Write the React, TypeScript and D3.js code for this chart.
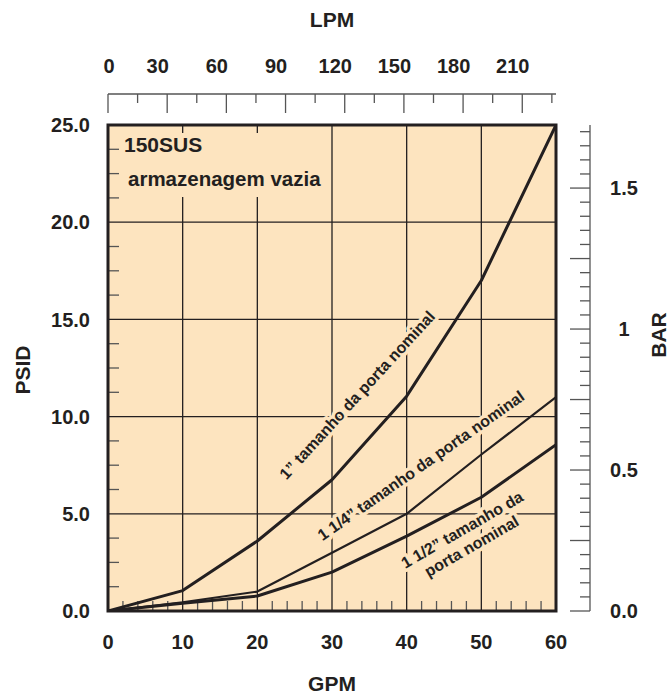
import React from "react";
import * as d3 from "d3";

const GPM = [0, 10, 20, 30, 40, 50, 60];
const PSI_1 = [0, 1.05, 3.6, 6.75, 11.05, 17.0, 25.0];
const PSI_1_14 = [0, 0.45, 1.0, 3.0, 5.0, 8.05, 11.0];
const PSI_1_12 = [0, 0.4, 0.77, 2.0, 3.85, 5.85, 8.55];

const GPM_TICKS = [0, 10, 20, 30, 40, 50, 60];
const PSI_TICKS = [0, 5, 10, 15, 20, 25];
const PSI_LABELS = ["0.0", "5.0", "10.0", "15.0", "20.0", "25.0"];
const LPM_TICKS = [0, 30, 60, 90, 120, 150, 180, 210];
const BAR_TICKS = [0, 0.5, 1, 1.5];
const BAR_LABELS = ["0.0", "0.5", "1", "1.5"];

const SERIES = [
  { name: "1in", values: PSI_1, width: 3 },
  { name: "114in", values: PSI_1_14, width: 2.2 },
  { name: "112in", values: PSI_1_12, width: 3 },
];

const CURVE_LABELS = [
  { lines: ["1\u201D tamanho da porta nominal"], gpm: 33.5, psi: 11.06, angle: -47.5 },
  { lines: ["1 1/4\u201D tamanho da porta nominal"], gpm: 42.0, psi: 7.42, angle: -35 },
  { lines: ["1 1/2\u201D tamanho da", "porta nominal"], gpm: 48.15, psi: 3.7, angle: -30 },
];

const LPM_PER_GPM = 3.785;
const PSI_PER_BAR = 14.5038;

const W = 671;
const H = 694;
const BG = "#FDE4BF";
const INK = "#231F20";
const FONT = "'Liberation Sans', Arial, Helvetica, sans-serif";

export default function App() {
  const x = d3.scaleLinear().domain([0, 60]).range([108, 556]);
  const y = d3.scaleLinear().domain([0, 25]).range([611, 125]);
  const xL = d3.scaleLinear().domain([0, 60 * LPM_PER_GPM]).range([108, 556]);
  const yB = d3.scaleLinear().domain([0, 25 / PSI_PER_BAR]).range([611, 125]);

  const line = d3
    .line<number>()
    .x((_, i) => x(GPM[i]))
    .y((d) => y(d));

  const leftMinor = d3.range(0, 25.001, 1.25).filter((v) => Math.abs(v % 5) > 0.01);
  const bottomMinor = d3.range(2, 60, 2).filter((v) => v % 10 !== 0);
  const topTicks = d3.range(0, 226, 15);
  const barTicks = d3.range(0, 1.7001, 0.05);

  const x0 = x(0), x1 = x(60), y0 = y(0), y1 = y(25);

  return (
    <svg
      width={W}
      height={H}
      style={{ position: "absolute", left: 0, top: 0, background: "#fff" }}
      fontFamily={FONT}
      fontWeight="bold"
    >
      <defs>
        <clipPath id="plotclip">
          <rect x={x0} y={y1} width={x1 - x0} height={y0 - y1} />
        </clipPath>
      </defs>

      {/* Plot background */}
      <rect x={x0} y={y1} width={x1 - x0} height={y0 - y1} fill={BG} />

      {/* Grid */}
      {GPM_TICKS.filter((v) => v > 0 && v < 60).map((v) => (
        <line key={"gx" + v} x1={x(v)} x2={x(v)} y1={y1} y2={y0} stroke={INK} strokeWidth={1.3} />
      ))}
      {PSI_TICKS.filter((v) => v > 0 && v < 25).map((v) => (
        <line key={"gy" + v} x1={x0} x2={x1} y1={y(v)} y2={y(v)} stroke={INK} strokeWidth={1.3} />
      ))}

      {/* Knock-out box for title text */}
      <rect x={x0 + 10} y={y1 + 8} width={212} height={64} fill={BG} />

      {/* Left minor ticks */}
      {leftMinor.map((v) => (
        <line key={"lm" + v} x1={x0} x2={x0 + 11} y1={y(v)} y2={y(v)} stroke="#555" strokeWidth={1.3} />
      ))}
      {/* Bottom minor ticks */}
      {bottomMinor.map((v) => (
        <line key={"bm" + v} x1={x(v)} x2={x(v)} y1={y0} y2={y0 - 10} stroke="#555" strokeWidth={1.3} />
      ))}

      {/* Title in plot */}
      <text x={x0 + 16} y={y1 + 27} fontSize={21} fill={INK}>150SUS</text>
      <text x={x0 + 20} y={y1 + 61} fontSize={20.5} fill={INK}>armazenagem vazia</text>

      {/* Curve labels with halo */}
      {CURVE_LABELS.map((lb, i) => (
        <g key={"cl" + i} transform={`translate(${x(lb.gpm)},${y(lb.psi)}) rotate(${lb.angle})`}>
          {lb.lines.map((t, j) => (
            <text
              key={j}
              x={0}
              y={(j - (lb.lines.length - 1) / 2) * 19}
              textAnchor="middle"
              dominantBaseline="middle"
              fontSize={16}
              fill={INK}
              stroke={BG}
              strokeWidth={7}
              strokeLinejoin="round"
              paintOrder="stroke"
            >
              {t}
            </text>
          ))}
        </g>
      ))}

      {/* Curves */}
      <g clipPath="url(#plotclip)">
        {SERIES.map((s) => (
          <path
            key={s.name}
            d={line(s.values) || ""}
            fill="none"
            stroke={INK}
            strokeWidth={s.width}
            strokeLinejoin="round"
            strokeLinecap="round"
          />
        ))}
      </g>

      {/* Border */}
      <rect x={x0} y={y1} width={x1 - x0} height={y0 - y1} fill="none" stroke={INK} strokeWidth={3} />

      {/* Left axis labels */}
      {PSI_TICKS.map((v, i) => (
        <text key={"pl" + v} x={90} y={y(v)} dy="0.36em" textAnchor="end" fontSize={20} fill={INK}>
          {PSI_LABELS[i]}
        </text>
      ))}
      <text
        transform={`translate(22,${(y0 + y1) / 2 + 2}) rotate(-90)`}
        textAnchor="middle"
        dy="0.36em"
        fontSize={21}
        fill={INK}
      >
        PSID
      </text>

      {/* Bottom axis labels */}
      {GPM_TICKS.map((v) => (
        <text key={"gl" + v} x={x(v)} y={649} textAnchor="middle" fontSize={20} fill={INK}>
          {v}
        </text>
      ))}
      <text x={(x0 + x1) / 2} y={691} textAnchor="middle" fontSize={21} fill={INK}>GPM</text>

      {/* Top LPM axis */}
      <line x1={x0} x2={x1} y1={94} y2={94} stroke="#555" strokeWidth={1.3} />
      {topTicks.map((v) => (
        <line
          key={"tt" + v}
          x1={xL(v)}
          x2={xL(v)}
          y1={94}
          y2={v % 30 === 0 ? 113 : 103}
          stroke="#555"
          strokeWidth={1.3}
        />
      ))}
      {LPM_TICKS.map((v) => (
        <text key={"tl" + v} x={xL(v) + (v === 0 ? 1 : -9.5)} y={73} textAnchor="middle" fontSize={20} fill={INK}>
          {v}
        </text>
      ))}
      <text x={(x0 + x1) / 2} y={27} textAnchor="middle" fontSize={21} fill={INK}>LPM</text>

      {/* Right BAR axis */}
      <line x1={590} x2={590} y1={y1} y2={y0} stroke="#555" strokeWidth={1.3} />
      {barTicks.map((v, i) => (
        <line
          key={"bt" + i}
          x1={i % 5 === 0 ? 570 : 580}
          x2={590}
          y1={yB(v)}
          y2={yB(v)}
          stroke="#555"
          strokeWidth={1.3}
        />
      ))}
      {BAR_TICKS.map((v, i) => (
        <text key={"bl" + v} x={624} y={yB(v)} dy="0.36em" textAnchor="middle" fontSize={20} fill={INK}>
          {BAR_LABELS[i]}
        </text>
      ))}
      <text
        transform={`translate(658,${(y0 + y1) / 2 - 33}) rotate(-90)`}
        textAnchor="middle"
        dy="0.36em"
        fontSize={21}
        fill={INK}
      >
        BAR
      </text>
    </svg>
  );
}
